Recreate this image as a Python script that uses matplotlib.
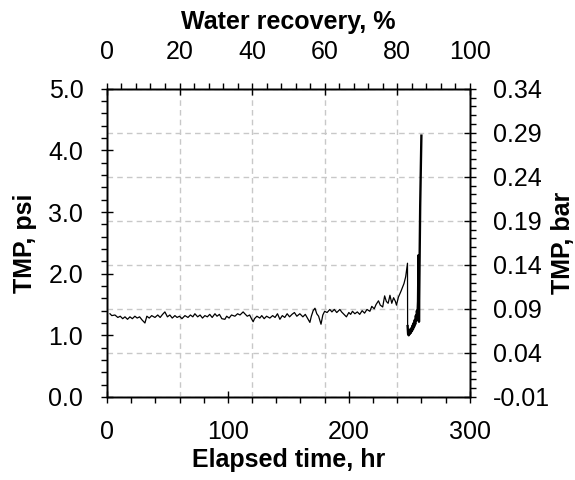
import matplotlib.pyplot as plt
from matplotlib.ticker import MultipleLocator, FormatStrFormatter

# elapsed time (hr) and TMP (psi)
time_hr = [
    2.5, 4, 6.6, 9, 11, 13, 14.9, 17, 19, 21, 23.1, 25, 27, 29, 31.4, 33, 35, 37,
    39.7, 42, 44, 46, 47.9, 50, 52, 54, 56.2, 58, 60, 62, 64.5, 67, 69, 71, 72.7,
    75, 77, 79, 81, 83, 85, 87, 89.3, 91, 93, 95, 97.5, 99, 101, 103, 105.8, 108,
    110, 112.6, 114, 116, 118, 119.5, 120.9, 122, 124, 126.4, 128, 130, 132,
    134.7, 137, 139, 141, 143, 145, 147, 149, 151, 153, 155, 157, 159.5, 162,
    164, 166, 167.8, 169, 170.5, 172, 173.5, 175, 177, 178.5, 180, 182, 184.3,
    186, 188, 190, 192.6, 194, 196, 198, 200, 201.5, 203, 205, 207, 209, 211,
    213, 215, 217.4, 219, 221, 222.5, 224.5, 226, 228, 229.6, 231, 232.5, 234,
    235.5, 237, 238.5, 239.4, 241, 243, 245.6, 247, 248.5,
    248.6, 249, 249.5, 250, 250.4, 250.9, 251.3, 251.8, 252.2, 252.7, 253.1,
    253.6, 254, 254.5, 254.9, 255.4, 255.8, 256.3, 256.7, 257.2, 257.6, 258.0,
    258.5, 259.0, 259.6, 260.0,
]
tmp_psi = [
    1.35, 1.32, 1.33, 1.29, 1.31, 1.27, 1.30, 1.26, 1.30, 1.27, 1.31, 1.28, 1.30,
    1.25, 1.20, 1.31, 1.28, 1.32,
    1.29, 1.33, 1.29, 1.34, 1.38, 1.30, 1.33, 1.28, 1.32, 1.29, 1.31, 1.27, 1.32,
    1.29, 1.33, 1.30, 1.35,
    1.30, 1.33, 1.28, 1.32, 1.30, 1.34, 1.29, 1.35, 1.31, 1.34, 1.27, 1.26, 1.31,
    1.28, 1.33, 1.31, 1.35,
    1.33, 1.38, 1.35, 1.31, 1.33, 1.27, 1.22, 1.27, 1.31, 1.28, 1.32, 1.27, 1.31,
    1.28, 1.32, 1.29, 1.35, 1.26, 1.32, 1.29, 1.35, 1.30, 1.34, 1.37, 1.31, 1.35,
    1.30,
    1.34, 1.27, 1.21, 1.31, 1.40, 1.44, 1.35, 1.31, 1.18, 1.33, 1.39, 1.37, 1.42,
    1.38, 1.42, 1.37, 1.42, 1.38, 1.34, 1.30, 1.37, 1.34, 1.39, 1.35, 1.38, 1.34,
    1.40,
    1.36, 1.42, 1.39, 1.47, 1.43, 1.50, 1.56, 1.49, 1.46, 1.64, 1.55, 1.52, 1.65,
    1.52, 1.61, 1.55, 1.49, 1.62, 1.71, 1.84, 1.95, 2.17,
    1.15, 1.02, 1.00, 1.07, 1.02, 1.10, 1.04, 1.12, 1.07, 1.16, 1.10, 1.20, 1.14,
    1.25, 1.18, 1.32, 1.24, 1.40, 1.30, 1.55, 2.30, 1.22, 2.20, 3.10, 3.80, 4.24,
]
drop_index = 128  # first point after the sudden drop near 248 hr

psi_ticks = [0.0, 1.0, 2.0, 3.0, 4.0, 5.0]
bar_ticks = [-0.01, 0.04, 0.09, 0.14, 0.19, 0.24, 0.29, 0.34]
time_ticks = [0, 100, 200, 300]
recovery_ticks = [0, 20, 40, 60, 80, 100]

plt.rcParams['font.family'] = ['Liberation Sans', 'DejaVu Sans']
fs = 18

fig = plt.figure(figsize=(5.75, 4.8), dpi=100)
ax = fig.add_axes([0.186, 0.173, 0.631, 0.642])
ax2 = ax.twinx()
ax3 = ax.twiny()

# data axes on top so the grid of the twins stays behind the trace
ax.set_zorder(3)
ax.patch.set_visible(False)

ax.plot(time_hr[:drop_index + 1], tmp_psi[:drop_index + 1], color='black', lw=0.9)
ax.plot(time_hr[drop_index:], tmp_psi[drop_index:], color='black', lw=1.7)

ax.set_xlim(0, 300)
ax.set_ylim(0, 5)
ax.set_xticks(time_ticks)
ax.set_yticks(psi_ticks)
ax.xaxis.set_minor_locator(MultipleLocator(20))
ax.yaxis.set_minor_locator(MultipleLocator(0.2))
ax.yaxis.set_major_formatter(FormatStrFormatter('%.1f'))

ax2.set_ylim(-0.01, 0.34)
ax2.set_yticks(bar_ticks)
ax2.yaxis.set_minor_locator(MultipleLocator(0.01))
ax2.yaxis.set_major_formatter(FormatStrFormatter('%.2f'))

ax3.set_xlim(0, 100)
ax3.set_xticks(recovery_ticks)
ax3.xaxis.set_minor_locator(MultipleLocator(4))

for a in (ax, ax2, ax3):
    a.tick_params(which='major', direction='inout', length=9, width=1,
                  labelsize=fs, color='black')
    a.tick_params(which='minor', direction='out', length=4.5, width=1)
    for s in a.spines.values():
        s.set_linewidth(1)

ax.tick_params(axis='x', pad=12)
ax.tick_params(axis='y', pad=12.5)
ax2.tick_params(axis='y', pad=12)
ax3.tick_params(axis='x', pad=13)

ax2.grid(True, axis='y', color='#c8c8c8', ls=(0, (4, 3)), lw=1)
ax3.grid(True, axis='x', color='#c8c8c8', ls=(0, (4, 3)), lw=1)

ax.set_xlabel('Elapsed time, hr', fontsize=fs, fontweight='bold', labelpad=3)
ax.set_ylabel('TMP, psi', fontsize=fs, fontweight='bold', labelpad=8)
ax2.set_ylabel('TMP, bar', fontsize=fs, fontweight='bold', labelpad=1)
ax3.set_xlabel('Water recovery, %', fontsize=fs, fontweight='bold', labelpad=8)

fig.savefig('out.png', dpi=100)
